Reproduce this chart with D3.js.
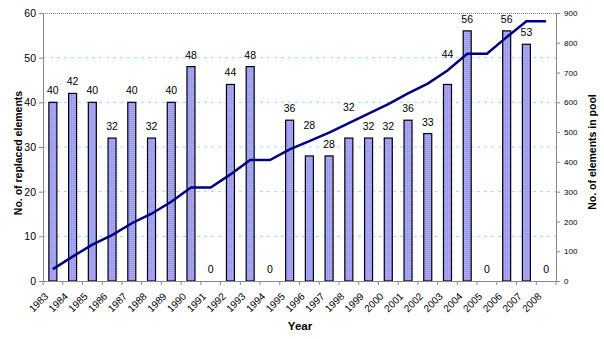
<!DOCTYPE html>
<html><head><meta charset="utf-8">
<script src="https://cdn.jsdelivr.net/npm/d3@7"></script>
<style>body{margin:0;background:#fff}svg{display:block;font-family:Arial,"Liberation Sans",sans-serif}</style>
</head><body>
<svg id="c" width="604" height="339"></svg>
<script>
const years = ["1983","1984","1985","1986","1987","1988","1989","1990","1991","1992","1993","1994","1995","1996","1997","1998","1999","2000","2001","2002","2003","2004","2005","2006","2007","2008"];
const replaced = [40,42,40,32,40,32,40,48,0,44,48,0,36,28,28,32,32,32,36,33,44,56,0,56,53,0];
const pool = [40,82,122,154,194,226,266,314,314,358,406,406,442,470,498,530,562,594,630,663,707,763,763,819,872,872];
const leftTicks = [0,10,20,30,40,50,60];
const rightTicks = [0,100,200,300,400,500,600,700,800,900];

const svg = d3.select("#c");
const L = 43, R = 556, T = 13, B = 281;
const x = d3.scaleBand().domain(years).range([L, R]).padding(0);
const yL = d3.scaleLinear().domain([0, 60]).range([B, T]);
const yR = d3.scaleLinear().domain([0, 900]).range([B, T]);

const defs = svg.append("defs");
const pat = defs.append("pattern").attr("id","dots").attr("width",2).attr("height",2).attr("patternUnits","userSpaceOnUse");
pat.append("rect").attr("width",2).attr("height",2).attr("fill","#9999ff");
pat.append("rect").attr("width",1).attr("height",1).attr("fill","#b8b8ff");

// gridlines
svg.append("g").selectAll("line").data(leftTicks.filter(d => d > 0 && d < 60)).join("line")
  .attr("x1", L).attr("x2", R).attr("y1", d => yL(d)).attr("y2", d => yL(d))
  .attr("stroke", "#8fdcff").attr("stroke-width", 1).attr("stroke-dasharray", "3,4");
// top border
svg.append("line").attr("x1", L).attr("x2", R).attr("y1", T + 0.5).attr("y2", T + 0.5)
  .attr("stroke", "#888").attr("stroke-dasharray", "1,1");

// bars
const bw = 8;
svg.append("g").selectAll("rect").data(years).join("rect")
  .attr("x", d => x(d) + x.bandwidth()/2 - bw/2)
  .attr("y", (d,i) => yL(replaced[i]))
  .attr("width", bw)
  .attr("height", (d,i) => B - yL(replaced[i]))
  .attr("fill", "url(#dots)").attr("stroke", "#000").attr("stroke-width", 1.2)
  .style("display", (d,i) => replaced[i] > 0 ? null : "none");

// line
const line = d3.line().x((d,i) => x(years[i]) + x.bandwidth()/2).y(d => yR(d));
svg.append("path").datum(pool).attr("d", line).attr("fill","none")
  .attr("stroke","#000080").attr("stroke-width",2.5).attr("stroke-linejoin","miter");

// data labels (lifted above the line when they would overlap it)
svg.append("g").selectAll("text").data(years).join("text")
  .attr("x", d => x(d) + x.bandwidth()/2)
  .attr("y", (d,i) => {
    let c = yL(replaced[i]) - 12;
    const ly = yR(pool[i]);
    if (Math.abs(c - ly) < 9) c = ly - 16;
    return c + 4;
  })
  .attr("text-anchor","middle").attr("font-size","10.5px").attr("fill","#000")
  .text((d,i) => replaced[i]);

// axes
const axL = svg.append("g").attr("transform", `translate(${L},0)`)
  .call(d3.axisLeft(yL).tickValues(leftTicks).tickSize(4).tickPadding(3));
axL.select(".domain").attr("stroke","#888");
axL.selectAll(".tick line").attr("stroke","#888");
axL.selectAll("text").attr("font-size","10.5px").attr("fill","#000").attr("font-family","Arial, 'Liberation Sans', sans-serif");

const axR = svg.append("g").attr("transform", `translate(${R},0)`)
  .call(d3.axisRight(yR).tickValues(rightTicks).tickSize(4).tickPadding(4));
axR.select(".domain").attr("stroke","#888");
axR.selectAll(".tick line").attr("stroke","#888");
axR.selectAll("text").attr("font-size","8px").attr("fill","#000").attr("font-family","Arial, 'Liberation Sans', sans-serif");

const axB = svg.append("g").attr("transform", `translate(0,${B})`)
  .call(d3.axisBottom(x).tickSize(0).tickFormat(""));
axB.select(".domain").attr("stroke","#888");
// ticks at band boundaries
svg.append("g").selectAll("line").data(years.concat(["end"])).join("line")
  .attr("x1", (d,i) => L + i * x.bandwidth()).attr("x2", (d,i) => L + i * x.bandwidth())
  .attr("y1", B).attr("y2", B + 4).attr("stroke","#888");
svg.append("g").selectAll("text").data(years).join("text")
  .attr("transform", d => `translate(${x(d) + x.bandwidth()/2 - 4},${B + 16}) rotate(-45)`)
  .attr("text-anchor","end").attr("font-size","10px").attr("fill","#000").text(d => d);

// titles
svg.append("text").attr("x", 300).attr("y", 330).attr("text-anchor","middle")
  .attr("font-weight","bold").attr("font-size","11.5px").text("Year");
svg.append("text").attr("transform", "translate(22,153) rotate(-90)").attr("text-anchor","middle")
  .attr("font-weight","bold").attr("font-size","10.5px").text("No. of replaced elements");
svg.append("text").attr("transform", "translate(596,152) rotate(-90)").attr("text-anchor","middle")
  .attr("font-weight","bold").attr("font-size","10.5px").text("No. of elements in pool");
</script>
</body></html>
